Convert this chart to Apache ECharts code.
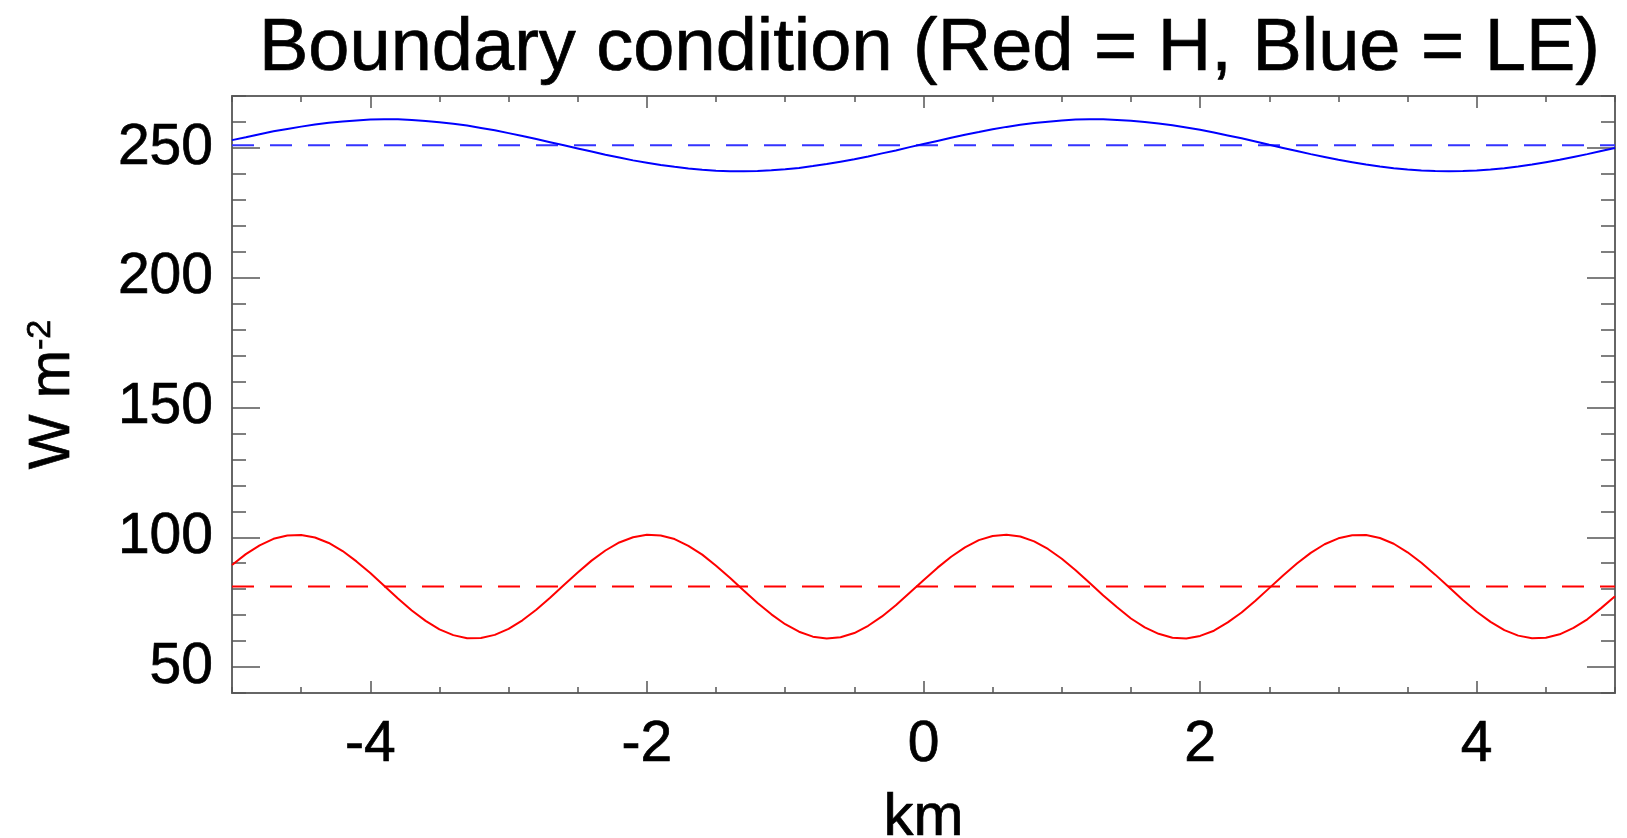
<!DOCTYPE html>
<html>
<head>
<meta charset="utf-8">
<script src="https://cdn.jsdelivr.net/npm/echarts@6/dist/echarts.min.js"></script>
<style>
html,body{margin:0;padding:0;background:#fff;}
#chart{width:1627px;height:838px;}
</style>
</head>
<body>
<div id="chart"></div>
<script>
// x positions (km)
const km = [-5.0,-4.9,-4.8,-4.7,-4.6,-4.5,-4.4,-4.3,-4.2,-4.1,-4.0,-3.9,-3.8,-3.7,-3.6,-3.5,-3.4,-3.3,-3.2,-3.1,
  -3.0,-2.9,-2.8,-2.7,-2.6,-2.5,-2.4,-2.3,-2.2,-2.1,-2.0,-1.9,-1.8,-1.7,-1.6,-1.5,-1.4,-1.3,-1.2,-1.1,
  -1.0,-0.9,-0.8,-0.7,-0.6,-0.5,-0.4,-0.3,-0.2,-0.1,0.0,0.1,0.2,0.3,0.4,0.5,0.6,0.7,0.8,0.9,
  1.0,1.1,1.2,1.3,1.4,1.5,1.6,1.7,1.8,1.9,2.0,2.1,2.2,2.3,2.4,2.5,2.6,2.7,2.8,2.9,
  3.0,3.1,3.2,3.3,3.4,3.5,3.6,3.7,3.8,3.9,4.0,4.1,4.2,4.3,4.4,4.5,4.6,4.7,4.8,4.9,5.0];
// Sensible heat flux H (red), W m-2
const hValues = [89.3,93.5,96.9,99.4,100.7,100.9,99.9,97.8,94.7,90.7,86.2,81.3,76.4,71.8,67.8,64.5,62.3,61.1,61.2,62.4,
  64.7,68.0,72.1,76.7,81.6,86.4,91.0,94.9,98.0,100.0,101.0,100.7,99.3,96.7,93.3,89.0,84.4,79.5,74.7,70.3,
  66.5,63.6,61.7,61.0,61.5,63.1,65.9,69.5,73.8,78.6,83.4,88.2,92.5,96.1,98.9,100.5,101.0,100.3,98.4,95.5,
  91.7,87.3,82.5,77.6,73.0,68.7,65.3,62.8,61.3,61.0,62.0,64.0,67.2,71.0,75.5,80.4,85.3,89.9,94.0,97.3,
  99.6,100.8,100.9,99.7,97.5,94.2,90.2,85.6,80.7,75.8,71.3,67.4,64.2,62.1,61.1,61.3,62.6,65.1,68.4,72.7,77.3];
// Latent heat flux LE (blue), W m-2
const leValues = [253.0,254.1,255.3,256.4,257.3,258.2,259.0,259.7,260.2,260.6,260.9,261.0,261.0,260.8,260.4,259.9,259.3,258.6,257.7,256.8,
  255.7,254.6,253.4,252.2,251.0,249.8,248.6,247.4,246.3,245.2,244.3,243.4,242.7,242.1,241.6,241.2,241.0,241.0,241.1,241.4,
  241.8,242.3,243.0,243.8,244.7,245.6,246.7,247.9,249.0,250.3,251.5,252.7,253.9,255.1,256.1,257.2,258.1,258.9,259.6,260.1,
  260.6,260.9,261.0,261.0,260.8,260.5,260.0,259.4,258.7,257.9,257.0,255.9,254.8,253.7,252.5,251.2,250.0,248.8,247.6,246.5,
  245.4,244.5,243.6,242.8,242.2,241.7,241.3,241.1,241.0,241.1,241.3,241.7,242.2,242.8,243.6,244.5,245.4,246.5,247.6,248.8,250.0];
// domain means (dashed lines)
const hMean = 81;
const leMean = 251;
const xRange = [-5, 5];
const yRange = [40, 270];
const xTickLabels = [-4, -2, 0, 2, 4];
const yTickLabels = [50, 100, 150, 200, 250];

const FONT = 'Liberation Sans, Helvetica, Arial, sans-serif';
const AX = '#666';
const TXT = {color: '#000', fontFamily: FONT, textBorderColor: '#000', textBorderWidth: 0.7};

const chart = echarts.init(document.getElementById('chart'));

function xAx(pos, major) {
  const o = {
    type: 'value', position: pos, min: xRange[0], max: xRange[1],
    splitLine: {show: false},
    axisLine: {show: major, onZero: false, lineStyle: {color: AX, width: 2}},
    axisTick: {show: true, inside: true, length: major ? 12 : 6, lineStyle: {color: '#555', width: 1.5}},
    axisLabel: {show: false}
  };
  if (major) {
    o.axisTick.customValues = xTickLabels;
    if (pos === 'bottom') {
      o.axisLabel = Object.assign({show: true, customValues: xTickLabels, margin: 24, fontSize: 57}, TXT);
      o.name = 'km';
      o.nameLocation = 'middle';
      o.nameGap = 95;
      o.nameTextStyle = Object.assign({fontSize: 60}, TXT);
    }
  } else {
    o.interval = 0.5;
  }
  return o;
}
function yAx(pos, major) {
  const o = {
    type: 'value', position: pos, min: yRange[0], max: yRange[1],
    splitLine: {show: false},
    axisLine: {show: major, onZero: false, lineStyle: {color: AX, width: 2}},
    axisTick: {show: true, inside: true, length: major ? 28 : 14, lineStyle: {color: '#555', width: 1.5}},
    axisLabel: {show: false}
  };
  if (major) {
    o.axisTick.customValues = yTickLabels;
    if (pos === 'left') {
      o.axisLabel = Object.assign({show: true, customValues: yTickLabels, margin: 19, fontSize: 57}, TXT);
      o.name = '{a|W m}{b|-2}';
      o.nameLocation = 'middle';
      o.nameRotate = 90;
      o.nameGap = 150;
      o.nameTextStyle = Object.assign({
        rich: {
          a: Object.assign({fontSize: 58, verticalAlign: 'top'}, TXT),
          b: Object.assign({fontSize: 34, verticalAlign: 'top'}, TXT)
        }
      }, TXT);
    }
  } else {
    o.interval = 10;
  }
  return o;
}

const pairs = (xs, ys) => xs.map((x, i) => [x, ys[i]]);

chart.setOption({
  animation: false,
  backgroundColor: '#fff',
  title: {
    text: 'Boundary condition (Red = H, Blue = LE)',
    left: 254, top: 8,
    textStyle: Object.assign({fontSize: 74, fontWeight: 'normal'}, TXT)
  },
  grid: {left: 232, right: 12, top: 96, bottom: 145, containLabel: false, outerBoundsMode: 'none'},
  xAxis: [xAx('bottom', true), xAx('bottom', false), xAx('top', true), xAx('top', false)],
  yAxis: [yAx('left', true), yAx('left', false), yAx('right', true), yAx('right', false)],
  series: [
    {type: 'line', name: 'H', data: pairs(km, hValues), showSymbol: false,
     lineStyle: {color: '#ff0000', width: 2}, z: 3},
    {type: 'line', name: 'H mean', data: [[xRange[0], hMean], [xRange[1], hMean]], showSymbol: false,
     lineStyle: {color: '#ff0000', width: 2, type: [22, 16]}, z: 2},
    {type: 'line', name: 'LE', data: pairs(km, leValues), showSymbol: false,
     lineStyle: {color: '#0000ff', width: 2}, z: 3},
    {type: 'line', name: 'LE mean', data: [[xRange[0], leMean], [xRange[1], leMean]], showSymbol: false,
     lineStyle: {color: '#3333ff', width: 2, type: [22, 16]}, z: 2}
  ]
});
</script>
</body>
</html>
